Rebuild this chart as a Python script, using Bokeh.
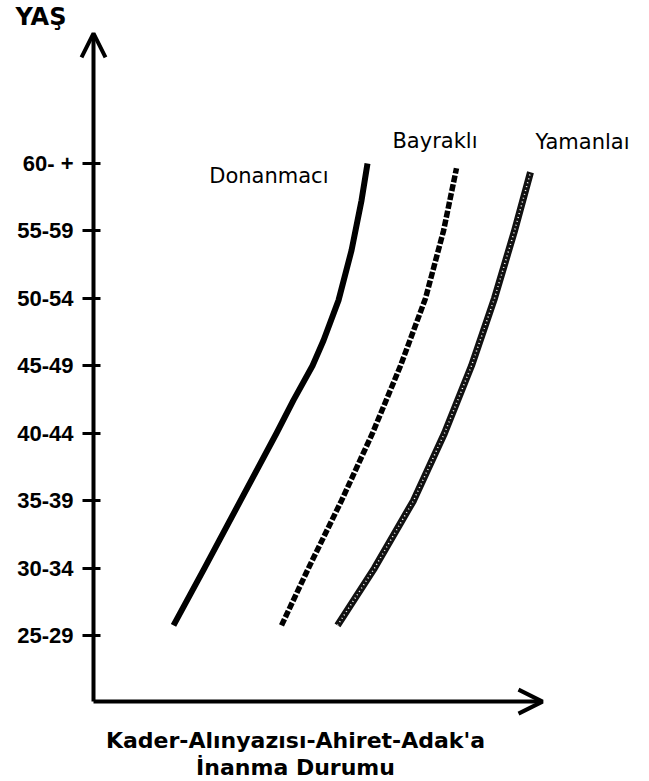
from bokeh.plotting import figure
from bokeh.models import Range1d, FixedTicker, Arrow, OpenHead, Label, ColumnDataSource
from bokeh.core.properties import value
from bokeh.embed import file_html
from bokeh.resources import INLINE

# ---- data ----
age_labels = ["25-29", "30-34", "35-39", "40-44", "45-49", "50-54", "55-59", "60- +"]
series_names = ["Donanmacı", "Bayraklı", "Yamanlaı"]

donanmaci_age = [0.15, 1, 2, 3, 3.49, 4, 4.375, 4.97, 5.71, 6.45, 7.0]
donanmaci_val = [80, 111, 147, 183, 200, 219, 230, 245, 258, 268, 274]

bayrakli_age = [0.15, 1, 2, 3, 4, 5, 6, 6.93]
bayrakli_val = [188, 215, 248, 279, 307, 332, 350, 363]

yamanlai_age = [0.15, 1, 2, 3, 4, 5, 6, 6.87]
yamanlai_val = [244, 281, 320, 351, 378, 401, 421, 437]

y_title = "YAŞ"
x_title_lines = ["Kader-Alınyazısı-Ahiret-Adak'a", "İnanma Durumu"]

# ---- layout constants ----
W, H = 649, 781
X_RANGE = (-93, 556)
Y_RANGE = (-2.165, 9.417)
AXIS_Y0 = -0.98      # where the horizontal arrow sits
AXIS_Y1 = 8.93       # tip of the vertical arrow
AXIS_X1 = 449        # tip of the horizontal arrow

p = figure(width=W, height=H, output_backend="svg", toolbar_location=None,
           x_range=Range1d(*X_RANGE), y_range=Range1d(*Y_RANGE),
           min_border_left=0, min_border_right=0, min_border_top=0,
           min_border_bottom=0, x_axis_location=None,
           outline_line_color=None, background_fill_color="white")
p.xgrid.visible = False
p.ygrid.visible = False

ax = p.yaxis[0]
ax.fixed_location = 0
ax.ticker = FixedTicker(ticks=list(range(len(age_labels))))
ax.major_label_overrides = {i: lab for i, lab in enumerate(age_labels)}
ax.axis_line_color = None
ax.major_tick_out = 11
ax.major_tick_in = 7
ax.major_tick_line_width = 3
ax.major_tick_line_color = "black"
ax.minor_tick_line_color = None
ax.major_label_standoff = 9
ax.major_label_text_font = "Liberation Sans"
ax.major_label_text_font_style = "bold"
ax.major_label_text_font_size = "22px"
ax.major_label_text_color = "black"

# axis arrows
p.add_layout(Arrow(x_start=0, y_start=AXIS_Y0, x_end=0, y_end=AXIS_Y1,
                   line_width=4, line_color="black",
                   end=OpenHead(size=24, line_width=4, line_color="black")))
p.add_layout(Arrow(x_start=0, y_start=AXIS_Y0, x_end=AXIS_X1, y_end=AXIS_Y0,
                   line_width=4, line_color="black",
                   end=OpenHead(size=24, line_width=4, line_color="black")))

# curves
p.line(donanmaci_val, donanmaci_age, line_width=6, line_color="black", line_join="round")

p.line(bayrakli_val, bayrakli_age, line_width=5.5, line_color="black", line_dash="7 2",
       line_join="round")

p.line(yamanlai_val, yamanlai_age, line_width=7, line_color="#111111", line_join="round")
p.line(yamanlai_val, yamanlai_age, line_width=1.5, line_color="white", line_dash="1 3",
       line_join="round")

# series labels, positioned relative to each curve's top point
ends = [(donanmaci_val[-1], donanmaci_age[-1]),
        (bayrakli_val[-1], bayrakli_age[-1]),
        (yamanlai_val[-1], yamanlai_age[-1])]
label_style = [(-39, 13, "right"), (21, -27, "right"), (5, -30, "left")]
for name, (ex, ey), (xo, yo, al) in zip(series_names, ends, label_style):
    p.text(x=[ex], y=[ey], text=[name], x_offset=xo, y_offset=yo,
           text_align=al, text_baseline="middle",
           text_font=value("DejaVu Sans"), text_font_size="21px", text_color="black")

# axis titles
p.add_layout(Label(x=-78, y=9.17, text=y_title, text_font="DejaVu Sans",
                   text_font_style="bold", text_font_size="24px",
                   text_baseline="middle", text_align="left", text_color="black"))
src = ColumnDataSource(dict(x=[202, 202], y=[-1.557, -1.958], t=x_title_lines))
p.text(x="x", y="y", text="t", source=src, text_align="center",
       text_baseline="middle", text_font=value("DejaVu Sans"),
       text_font_style="bold", text_font_size="22px", text_color="black")

open("out.html", "w").write(file_html(p, INLINE))
